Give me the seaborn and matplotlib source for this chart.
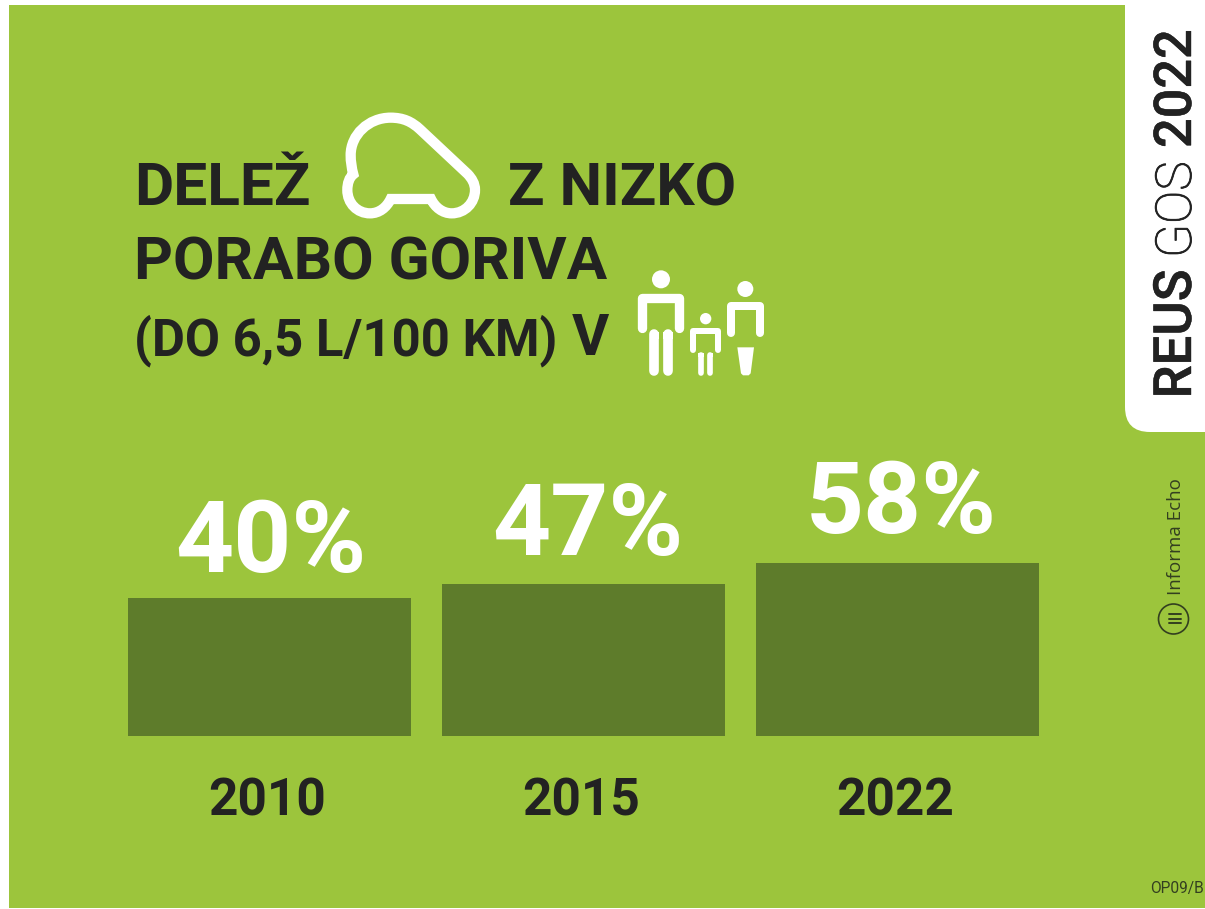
import pandas as pd
import seaborn as sns
import matplotlib.pyplot as plt
import matplotlib.patheffects as pe
from matplotlib.patches import Rectangle, FancyBboxPatch, Circle, PathPatch, Polygon
from matplotlib.path import Path
from matplotlib.transforms import ScaledTranslation

# Data
years = ["2010", "2015", "2022"]
shares = [40, 47, 58]
share_labels = ["40%", "47%", "58%"]
# the source draws its bars on a cut axis, zero is not at the bar foot
axis_floor = -31

GREEN = "#9CC53C"
BAR = "#5E7C2B"
DARK = "#222222"
SOFT = "#333F20"

sns.set_theme(style="white")
plt.rcParams["font.family"] = ["Roboto", "DejaVu Sans"]

W, H = 1205, 909
fig = plt.figure(figsize=(W / 100, H / 100), dpi=100, facecolor="white")

# -----------------------------
# Background layer in pixel coordinates
# -----------------------------
bg = fig.add_axes([0, 0, 1, 1])
bg.set_xlim(0, W)
bg.set_ylim(H, 0)
bg.axis("off")
bg.add_patch(Rectangle((9, 5), W - 9, 903, fc=GREEN, ec="none"))
bg.add_patch(FancyBboxPatch((1125, -60), 200, 492, boxstyle="round,pad=0,rounding_size=25",
                            fc="white", ec="none"))

# -----------------------------
# Title
# -----------------------------
bg.text(134, 205, "DELEŽ", fontsize=43.4, fontweight="bold", color=DARK)
bg.text(508, 205, "Z NIZKO", fontsize=43.4, fontweight="bold", color=DARK)
bg.text(134, 280, "PORABO GORIVA", fontsize=43.4, fontweight="bold", color=DARK)
bg.text(134, 355, "(DO 6,5 L/100 KM)", fontsize=36.6, fontweight="bold", color=DARK)
bg.text(572, 355, "V", fontsize=41, fontweight="bold", color=DARK)


# -----------------------------
# Icons
# -----------------------------
def car_xy(x, y):
    return 320 + x / 3, 90 + y / 3


car = [
    (Path.MOVETO, (100, 253)),
    (Path.CURVE4, (88, 262)), (Path.CURVE4, (82, 280)), (Path.CURVE4, (82, 300)),
    (Path.CURVE4, (82, 340)), (Path.CURVE4, (112, 370)), (Path.CURVE4, (150, 370)),
    (Path.CURVE4, (178, 370)), (Path.CURVE4, (200, 352)), (Path.CURVE4, (212, 327)),
    (Path.LINETO, (333, 327)),
    (Path.CURVE4, (345, 352)), (Path.CURVE4, (368, 370)), (Path.CURVE4, (395, 370)),
    (Path.CURVE4, (435, 370)), (Path.CURVE4, (465, 338)), (Path.CURVE4, (465, 300)),
    (Path.CURVE4, (465, 280)), (Path.CURVE4, (455, 265)), (Path.CURVE4, (443, 252)),
    (Path.LINETO, (300, 118)),
    (Path.CURVE4, (275, 95)), (Path.CURVE4, (250, 83)), (Path.CURVE4, (212, 83)),
    (Path.CURVE4, (145, 83)), (Path.CURVE4, (92, 135)), (Path.CURVE4, (92, 195)),
    (Path.CURVE4, (92, 215)), (Path.CURVE4, (95, 235)), (Path.CURVE4, (100, 253)),
    (Path.CLOSEPOLY, (100, 253)),
]
bg.add_patch(PathPatch(Path([car_xy(*p) for _, p in car], [c for c, _ in car]),
                       fc="none", ec="white", lw=7.4, joinstyle="miter", capstyle="butt"))


def ppl_xy(x, y):
    return 620 + x / 3, 260 + y / 3


def person_line(points, width, cap="round"):
    xy = [ppl_xy(*p) for p in points]
    bg.plot([p[0] for p in xy], [p[1] for p in xy], color="white", lw=width / 3 * 0.72,
            solid_capstyle=cap, solid_joinstyle="round")


def head(x, y, r):
    bg.add_patch(Circle(ppl_xy(x, y), r / 3, fc="white", ec="none"))


# man
head(123, 58, 27)
person_line([(66, 205), (66, 113), (178, 113), (178, 205)], 28)
person_line([(103, 222), (103, 333)], 29)
person_line([(143, 222), (143, 333)], 29)
bg.add_patch(Rectangle(ppl_xy(88.5, 216), 29 / 3, 20 / 3, fc="white", ec="none"))
bg.add_patch(Rectangle(ppl_xy(128.5, 216), 29 / 3, 20 / 3, fc="white", ec="none"))
# child
head(257, 176, 17)
person_line([(220, 271), (220, 212), (293, 212), (293, 271)], 18)
person_line([(243, 285), (243, 340)], 17)
person_line([(271, 285), (271, 340)], 17)
bg.add_patch(Rectangle(ppl_xy(234.5, 279), 17 / 3, 12 / 3, fc="white", ec="none"))
bg.add_patch(Rectangle(ppl_xy(262.5, 279), 17 / 3, 12 / 3, fc="white", ec="none"))
# woman
head(376, 87, 24)
person_line([(334, 218), (334, 137), (419, 137), (419, 218)], 24)
bg.add_patch(Polygon([ppl_xy(*p) for p in [(352, 262), (402, 262), (392, 340), (386, 346),
                                           (369, 346), (363, 340)]],
                     fc="white", ec="none"))

# -----------------------------
# Side tab and small print
# -----------------------------
side = dict(rotation=90, ha="left", va="baseline", rotation_mode="anchor", color=DARK)
thicker = [pe.withStroke(linewidth=0.3, foreground=DARK)]
bg.text(1191, 398.5, "REUS", fontsize=38, fontweight="medium", path_effects=thicker, **side)
gos = bg.text(1191, 258, "GOS", fontsize=35.8, fontweight="light", **side)
gos.set_path_effects([pe.withStroke(linewidth=0.6, foreground=DARK)])
bg.text(1191, 148, "2022", fontsize=37.6, fontweight="medium", path_effects=thicker, **side)

bg.text(1181, 595, "Informa Echo", rotation=90, ha="left", va="baseline", rotation_mode="anchor",
        fontsize=13.5, family="Open Sans", color=SOFT)
bg.add_patch(Circle((1173.5, 619), 15, fc="none", ec=SOFT, lw=1.2))
for y in [614.2, 618.8, 623.4]:
    bg.plot([1169, 1181], [y, y], color=SOFT, lw=1.4)

bg.text(1203.5, 893, "OP09/B", ha="right", fontsize=11.2, color=SOFT)

# -----------------------------
# Bars
# -----------------------------
df = pd.DataFrame({"year": years, "share": shares})
df["height"] = df["share"] - axis_floor

ax = fig.add_axes([112.5 / W, 1 - 736 / H, 942 / W, 400 / H])
ax.patch.set_alpha(0)
sns.barplot(data=df, x="year", y="height", color=BAR, saturation=1, width=0.901,
            edgecolor="none", linewidth=0, ax=ax)
ax.set_xlim(-0.5, 2.5)
ax.set_ylim(0, 400 / 1.944)
sns.despine(ax=ax, left=True, bottom=True, top=True, right=True)
ax.set_xlabel("")
ax.set_ylabel("")
ax.set_yticks([])
ax.tick_params(axis="x", length=0, pad=29, labelsize=37, labelcolor=DARK)
for t in ax.get_xticklabels():
    t.set_fontweight("bold")
    t.set_transform(t.get_transform() + ScaledTranslation(-1.5 / 72, 0, fig.dpi_scale_trans))

for bar, label, dx, pad in zip(ax.patches, share_labels, [1, 3.2, 2.5], [26, 29, 30]):
    ax.annotate(label, (bar.get_x() + bar.get_width() / 2, bar.get_height()),
                xytext=(dx, pad * 0.72), textcoords="offset points", ha="center", va="baseline",
                fontsize=73, fontweight="bold", color="white")

fig.savefig("out.png", dpi=100, facecolor="white")
